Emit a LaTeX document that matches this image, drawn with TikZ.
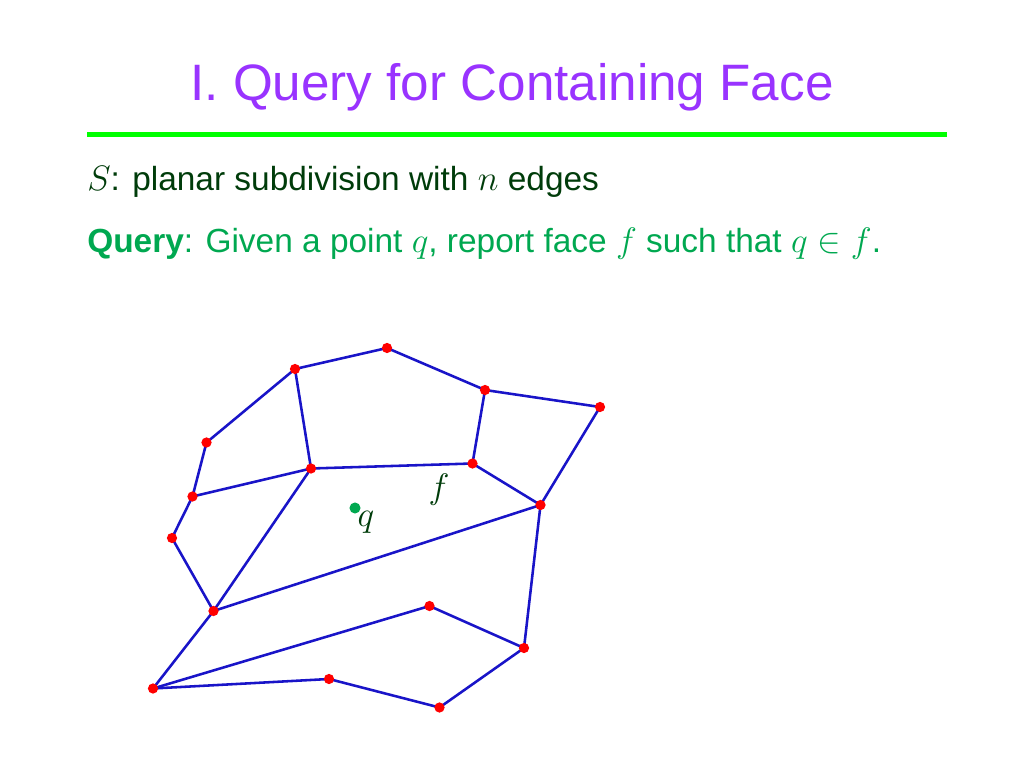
\documentclass[tikz,border=0pt]{standalone}
\usepackage{fontspec}
\setmainfont{Liberation Sans}
\usepackage{amsmath}

\definecolor{titlepurple}{RGB}{153,51,255}
\definecolor{rulegreen}{RGB}{0,255,0}
\definecolor{darkgreen}{RGB}{0,60,10}
\definecolor{querygreen}{RGB}{0,168,80}
\definecolor{edgeblue}{RGB}{25,20,200}

\begin{document}
\begin{tikzpicture}[x=0.703125pt, y=-0.703125pt,
    edge/.style={edgeblue, line width=1.8pt},
    vtx/.style={red},
    qpt/.style={querygreen}]
	\useasboundingbox (0,0) rectangle (1024,768);
	\node[anchor=base, titlepurple, font=\fontsize{36pt}{43pt}\selectfont] (title) at (512,101) {I. Query for Containing Face};
	\draw[rulegreen, line width=4.2pt] (87,134.5) -- (947,134.5);
	\node[anchor=base west, inner sep=0pt, darkgreen, font=\fontsize{23.5pt}{28pt}\selectfont] (line1) at (87,191) {$S$: planar subdivision with $n$ edges};
	\node[anchor=base west, inner sep=0pt, querygreen, font=\fontsize{23.5pt}{28pt}\selectfont] (line2) at (87,253) {\textbf{Query}: Given a point $q$, report face $f$ such that $q\in f$.};

	% vertices of the subdivision
	\coordinate (v1) at (387,348);
	\coordinate (v2) at (295,369);
	\coordinate (v3) at (485,390);
	\coordinate (v4) at (600,407);
	\coordinate (v5) at (206.5,442.5);
	\coordinate (v6) at (311,468.5);
	\coordinate (v7) at (472.5,463.5);
	\coordinate (v8) at (192.5,496.5);
	\coordinate (v9) at (540.5,505);
	\coordinate (v10) at (172,538);
	\coordinate (v11) at (213.5,611);
	\coordinate (v12) at (429.5,606);
	\coordinate (v13) at (524,648);
	\coordinate (v14) at (153,688.5);
	\coordinate (v15) at (329,679);
	\coordinate (v16) at (439.5,707.5);

	\draw[edge] (v5) -- (v2) -- (v1) -- (v3) -- (v4) -- (v9) -- (v13) -- (v16) -- (v15) -- (v14) -- (v11) -- (v10) -- (v8) -- (v5);
	\draw[edge] (v2) -- (v6) -- (v7) -- (v3);
	\draw[edge] (v8) -- (v6) -- (v11) -- (v9) -- (v7);
	\draw[edge] (v14) -- (v12) -- (v13);

	\foreach \v in {v1,v2,v3,v4,v5,v6,v7,v8,v9,v10,v11,v12,v13,v14,v15,v16}
		\fill[vtx] (\v) circle (3.6pt);

	% query point and face
	\coordinate (q) at (355,508);
	\fill[qpt] (q) circle (3.9pt);
	\node[darkgreen, font=\fontsize{23pt}{26pt}\selectfont] (qlabel) at (366,522) {$q$};
	\node[darkgreen, font=\fontsize{23pt}{26pt}\selectfont] (flabel) at (439,490) {$f$};
\end{tikzpicture}
\end{document}
